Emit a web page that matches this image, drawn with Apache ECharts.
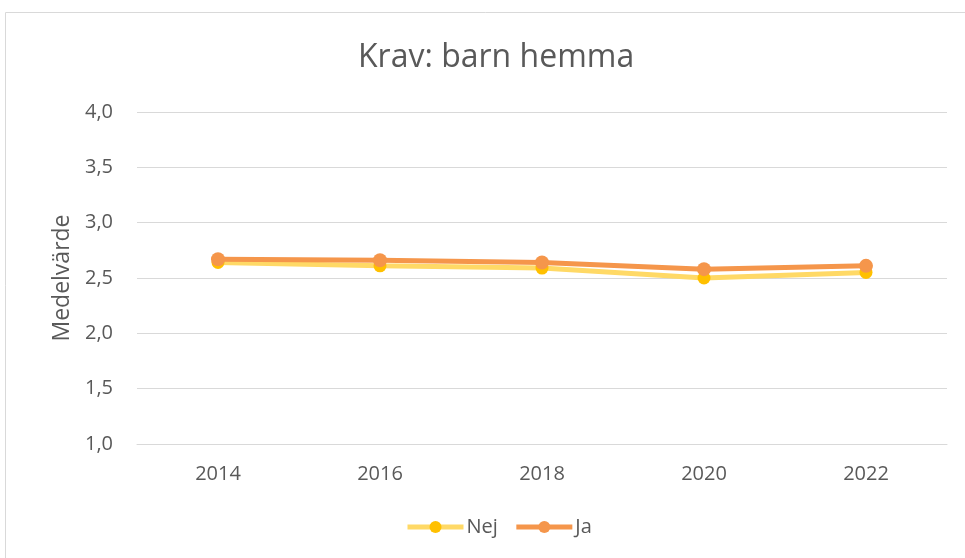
<!DOCTYPE html>
<html>
<head>
<meta charset="utf-8">
<script src="https://cdn.jsdelivr.net/npm/echarts@6/dist/echarts.min.js"></script>
<style>
html, body { margin: 0; padding: 0; background: #fff; }
#main { width: 965px; height: 558px; }
</style>
</head>
<body>
<div id="main"></div>
<script>
var years = ['2014', '2016', '2018', '2020', '2022'];
var nej = [2.64, 2.61, 2.59, 2.50, 2.55];
var ja = [2.67, 2.66, 2.64, 2.58, 2.61];

var myChart = echarts.init(document.getElementById('main'));
var font = '"Open Sans", "Liberation Sans", sans-serif';

var option = {
    textStyle: { fontFamily: font },
    graphic: [{
        type: 'rect',
        shape: { x: 5.5, y: 12.5, width: 980, height: 560 },
        style: { fill: 'none', stroke: '#d9d9d9', lineWidth: 1 },
        silent: true
    }],
    title: {
        text: 'Krav: barn hemma',
        left: 353,
        top: 37,
        textStyle: { fontFamily: font, fontSize: 32, fontWeight: 'normal', color: '#595959' }
    },
    legend: {
        bottom: 16,
        left: 400,
        itemWidth: 56,
        itemHeight: 15,
        itemGap: 16,
        lineStyle: { width: 5 },
        textStyle: { fontFamily: font, fontSize: 20, color: '#595959', padding: [0, 0, 0, -2] },
        data: ['Nej', 'Ja']
    },
    grid: { left: 137, right: 18, top: 112, bottom: 114 },
    xAxis: {
        type: 'category',
        data: years,
        boundaryGap: true,
        axisLine: { lineStyle: { color: '#d9d9d9', width: 1 } },
        axisTick: { show: false },
        axisLabel: { fontSize: 20, color: '#595959', margin: 20, fontFamily: font }
    },
    yAxis: {
        type: 'value',
        min: 1,
        max: 4,
        interval: 0.5,
        name: 'Medelvärde',
        nameLocation: 'middle',
        nameGap: 63,
        nameTextStyle: { fontSize: 23, color: '#595959', fontFamily: font },
        axisLine: { show: false },
        axisTick: { show: false },
        splitLine: { lineStyle: { color: '#d9d9d9', width: 1 } },
        axisLabel: {
            fontSize: 20, color: '#595959', margin: 24, fontFamily: font,
            formatter: function (v) { return v.toFixed(1).replace('.', ','); }
        }
    },
    series: [
        {
            name: 'Nej',
            type: 'line',
            data: nej,
            symbol: 'circle',
            symbolSize: 13,
            lineStyle: { color: '#ffd966', width: 5 },
            itemStyle: { color: '#ffc000' },
            z: 2
        },
        {
            name: 'Ja',
            type: 'line',
            data: ja,
            symbol: 'circle',
            symbolSize: 14,
            lineStyle: { color: '#f5964b', width: 5 },
            itemStyle: { color: '#f5964b' },
            z: 3
        }
    ]
};
myChart.setOption(option);
</script>
</body>
</html>
